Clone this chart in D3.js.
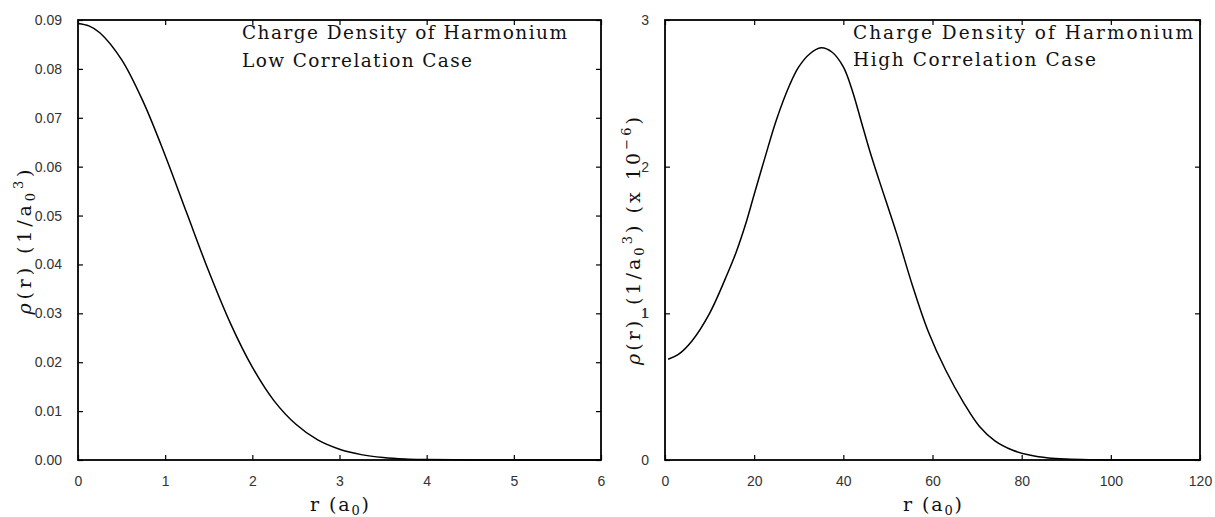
<!DOCTYPE html>
<html>
<head>
<meta charset="utf-8">
<script src="https://cdn.jsdelivr.net/npm/d3@7"></script>
<style>
  html, body { margin: 0; padding: 0; background: #fff; }
  svg { display: block; }
  .tick text { font-family: "Liberation Sans", Arial, sans-serif; font-size: 14px; fill: #333; }
  .tick line { stroke: #000; stroke-width: 1.2; }
  .serif { font-family: "DejaVu Serif", "Liberation Serif", serif; fill: #111; }
</style>
</head>
<body>
<svg id="chart" width="1215" height="517"></svg>
<script>
// ---- Data ----
// Left panel: low correlation case, r in a0, rho in 1/a0^3
const lowR   = [0, 0.125, 0.25, 0.5, 0.75, 1, 1.25, 1.5, 1.75, 2, 2.25, 2.5, 2.75, 3, 3.25, 3.5, 3.75, 4, 4.5, 5, 5.5, 6];
const lowRho = [0.0893, 0.0888, 0.0874, 0.0819, 0.0732, 0.0623, 0.0504, 0.0386, 0.0279, 0.0190, 0.0121, 0.0073, 0.0041, 0.0022, 0.0011, 0.0005, 0.0002, 0.00009, 0.00001, 0.000001, 0, 0];

// Right panel: high correlation case, rho in units of 1e-6 / a0^3
const highR   = [0.7, 3, 6, 10, 14, 16, 18, 20, 22.5, 25, 28, 30, 32.5, 35, 37.5, 40, 42, 44, 46, 48, 52, 55.5, 59, 63, 67, 70.5, 74, 78, 82, 86, 90, 95, 100, 110, 120];
const highRho = [0.687, 0.72, 0.81, 1.00, 1.27, 1.42, 1.60, 1.81, 2.07, 2.32, 2.56, 2.68, 2.77, 2.81, 2.78, 2.68, 2.52, 2.31, 2.10, 1.91, 1.54, 1.19, 0.88, 0.61, 0.39, 0.23, 0.13, 0.066, 0.032, 0.014, 0.006, 0.0018, 0.0005, 0, 0];

// Tick values
const lowXTicks  = [0, 1, 2, 3, 4, 5, 6];
const lowYTicks  = [0, 0.01, 0.02, 0.03, 0.04, 0.05, 0.06, 0.07, 0.08, 0.09];
const highXTicks = [0, 20, 40, 60, 80, 100, 120];
const highYTicks = [0, 1, 2, 3];

// Titles
const lowTitle  = ["Charge Density of Harmonium", "Low Correlation Case"];
const highTitle = ["Charge Density of Harmonium", "High Correlation Case"];

const svg = d3.select("#chart");

function panel(cfg) {
  const x = d3.scaleLinear().domain(cfg.xDomain).range([cfg.left, cfg.right]);
  const y = d3.scaleLinear().domain(cfg.yDomain).range([cfg.bottom, cfg.top]);
  const g = svg.append("g");

  // axes, ticks pointing inward
  g.append("g").attr("transform", `translate(0,${cfg.bottom})`)
    .call(d3.axisBottom(x).tickValues(cfg.xTicks).tickSizeInner(-5).tickSizeOuter(0).tickPadding(16).tickFormat(d3.format("d")))
    .call(a => a.select(".domain").remove());
  g.append("g").attr("transform", `translate(0,${cfg.top})`)
    .call(d3.axisTop(x).tickValues(cfg.xTicks).tickSizeInner(-5).tickSizeOuter(0).tickFormat(""))
    .call(a => a.select(".domain").remove());
  g.append("g").attr("transform", `translate(${cfg.left},0)`)
    .call(d3.axisLeft(y).tickValues(cfg.yTicks).tickSizeInner(-5).tickSizeOuter(0).tickPadding(16).tickFormat(cfg.yFmt))
    .call(a => a.select(".domain").remove());
  g.append("g").attr("transform", `translate(${cfg.right},0)`)
    .call(d3.axisRight(y).tickValues(cfg.yTicks).tickSizeInner(-5).tickSizeOuter(0).tickFormat(""))
    .call(a => a.select(".domain").remove());

  // frame
  g.append("rect")
    .attr("x", cfg.left).attr("y", cfg.top)
    .attr("width", cfg.right - cfg.left).attr("height", cfg.bottom - cfg.top)
    .attr("fill", "none").attr("stroke", "#000").attr("stroke-width", 1.8);

  // curve
  const pts = cfg.xs.map((v, i) => [v, cfg.ys[i]]);
  g.append("path")
    .datum(pts)
    .attr("fill", "none").attr("stroke", "#000").attr("stroke-width", 1.5)
    .attr("d", d3.line().x(d => x(d[0])).y(d => y(d[1])).curve(d3.curveCatmullRom.alpha(0.5)));

  // titles
  cfg.title.forEach((t, i) => {
    g.append("text").attr("class", "serif")
      .attr("x", cfg.titleX).attr("y", cfg.titleY[i])
      .attr("font-size", 18.5)
      .attr("textLength", cfg.titleLen[i]).attr("lengthAdjust", "spacing")
      .text(t);
  });

  // x label  r (a0)
  const xl = g.append("text").attr("class", "serif")
    .attr("x", (cfg.left + cfg.right) / 2).attr("y", 511)
    .attr("text-anchor", "middle").attr("font-size", 19)
    .attr("textLength", 59).attr("lengthAdjust", "spacing");
  xl.append("tspan").text("r (a");
  xl.append("tspan").attr("font-size", 13).attr("dy", 4).text("0");
  xl.append("tspan").attr("dy", -4).text(")");

  // y label
  const yl = g.append("text").attr("class", "serif")
    .attr("transform", `translate(${cfg.yLabelX},${cfg.yLabelY}) rotate(-90)`)
    .attr("text-anchor", "middle").attr("font-size", 19)
    .attr("textLength", cfg.yLabelLen).attr("lengthAdjust", "spacing");
  yl.append("tspan").attr("font-style", "italic").text("ρ");
  yl.append("tspan").text(cfg.yLabelMid);
  yl.append("tspan").attr("font-size", 13).attr("dy", 4).text("0");
  yl.append("tspan").attr("font-size", 13).attr("dy", -12).text("3");
  yl.append("tspan").attr("dy", 8).text(")");
  if (cfg.scaleNote) {
    yl.append("tspan").text(" (x 10");
    yl.append("tspan").attr("font-size", 13).attr("dy", -9).text("−6");
    yl.append("tspan").attr("dy", 9).text(")");
  }
}

panel({
  xDomain: [0, 6], yDomain: [0, 0.09],
  left: 78, right: 601, top: 20, bottom: 460,
  xTicks: lowXTicks, yTicks: lowYTicks, yFmt: d3.format(".2f"),
  xs: lowR, ys: lowRho,
  title: lowTitle, titleX: 242, titleY: [39, 67], titleLen: [325, 230],
  yLabelX: 31, yLabelY: 242, yLabelLen: 145, yLabelMid: "(r) (1/a", scaleNote: false
});

panel({
  xDomain: [0, 120], yDomain: [0, 3],
  left: 665, right: 1200, top: 20, bottom: 460,
  xTicks: highXTicks, yTicks: highYTicks, yFmt: d3.format("d"),
  xs: highR, ys: highRho,
  title: highTitle, titleX: 853, titleY: [39, 66], titleLen: [340, 243],
  yLabelX: 640, yLabelY: 241, yLabelLen: 248, yLabelMid: "(r)_(1/a", scaleNote: true
});
</script>
</body>
</html>
